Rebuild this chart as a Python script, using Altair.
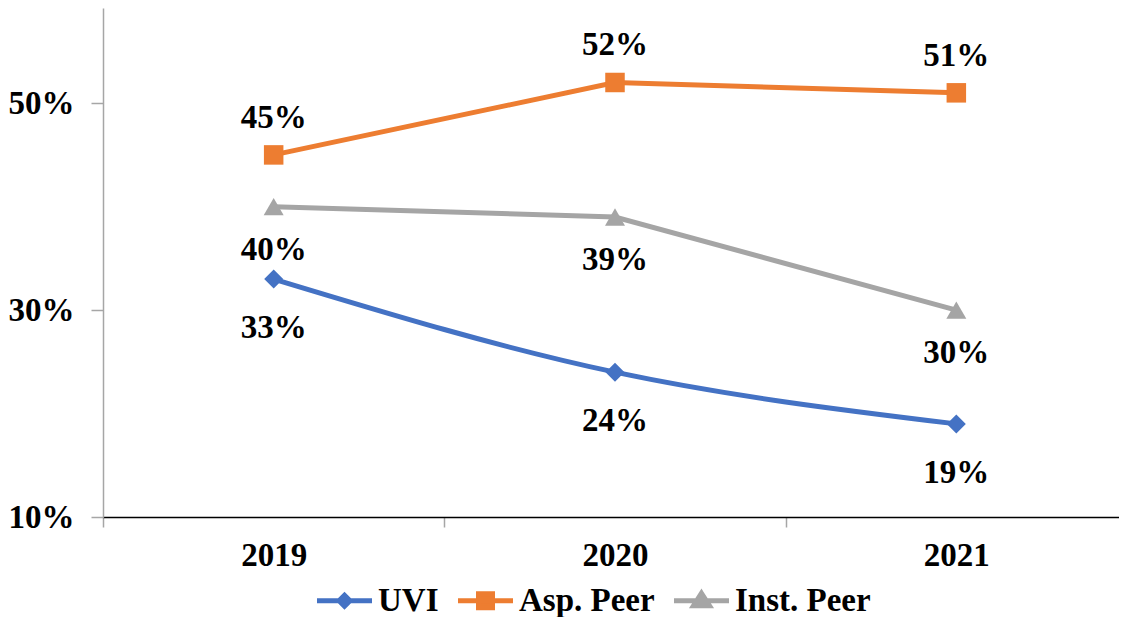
import altair as alt
import pandas as pd

years = ["2019", "2020", "2021"]
series_names = ["UVI", "Asp. Peer", "Inst. Peer"]
uvi = [33, 24, 19]
asp_peer = [45, 52, 51]
inst_peer = [40, 39, 30]
colors = ["#4472C4", "#ED7D31", "#A5A5A5"]
marker_shapes = ["diamond", "square", "triangle-up"]
y_ticks = [10, 30, 50]

FONT = "Liberation Serif"
FS = 33

rows = []
for name, vals in zip(series_names, [uvi, asp_peer, inst_peer]):
    for yr, v in zip(years, vals):
        rows.append({"year": yr, "series": name, "value": v})
df = pd.DataFrame(rows)

# legend symbols: line with marker
legend_paths = [
    "M-2.75,0H2.75M0,-0.55L0.55,0L0,0.55L-0.55,0Z",
    "M-2.75,0H2.75M-0.7,-0.7H0.7V0.7H-0.7Z",
    "M-2.75,0H2.75M0,-0.75L0.8,0.5H-0.8Z",
]

x_enc = alt.X(
    "year:O",
    scale=alt.Scale(type="band", domain=years, range=[0, 1024], paddingInner=0, paddingOuter=0),
    axis=alt.Axis(
        title=None, labelAngle=0, tickBand="extent", tickSize=10, labelPadding=12,
        domainColor="#000000", domainWidth=1.5, tickColor="#A6A6A6", tickWidth=1.5,
        grid=False, labelFont=FONT, labelFontSize=FS, labelFontWeight="bold", labelColor="#000000",
    ),
)
y_enc = alt.Y(
    "value:Q",
    scale=alt.Scale(domain=[10, 59.2], nice=False, zero=False),
    axis=alt.Axis(
        title=None, values=y_ticks, labelExpr="datum.value + '%'", tickSize=12, labelPadding=17,
        domainColor="#A6A6A6", domainWidth=1.5, tickColor="#A6A6A6", tickWidth=1.5, grid=False,
        labelFont=FONT, labelFontSize=FS, labelFontWeight="bold", labelColor="#000000",
    ),
)
color_enc = alt.Color("series:N", scale=alt.Scale(domain=series_names, range=colors), legend=None)

base = alt.Chart(df).encode(x=x_enc, y=y_enc, color=color_enc)

line_smooth = base.transform_filter(alt.datum.series == "UVI").mark_line(
    strokeWidth=5, interpolate="monotone", strokeCap="round"
)
line_straight = base.transform_filter(alt.datum.series != "UVI").mark_line(
    strokeWidth=5, strokeCap="round"
)
points = base.mark_point(filled=True, opacity=1).encode(
    shape=alt.Shape("series:N", scale=alt.Scale(domain=series_names, range=marker_shapes), legend=None),
    size=alt.Size("series:N", scale=alt.Scale(domain=series_names, range=[361, 400, 420]), legend=None),
)

lbl = base.transform_calculate(label="format(datum.value, 'd') + '%'")
text_kw = dict(font=FONT, fontSize=FS, fontWeight="bold", color="#000000", align="center", baseline="middle")
labels_asp = lbl.transform_filter(alt.datum.series == "Asp. Peer").mark_text(dy=-37, **text_kw).encode(
    text="label:N", color=alt.value("#000000"))
labels_inst = lbl.transform_filter(alt.datum.series == "Inst. Peer").mark_text(dy=43, **text_kw).encode(
    text="label:N", color=alt.value("#000000"))
labels_uvi = lbl.transform_filter(alt.datum.series == "UVI").mark_text(dy=49, **text_kw).encode(
    text="label:N", color=alt.value("#000000"))

leg = alt.Legend(
    orient="none", legendX=225, legendY=576, direction="horizontal", title=None,
    symbolSize=400, symbolStrokeWidth=5, labelFont=FONT, labelFontSize=FS, labelFontWeight="bold",
    labelColor="#000000", labelOffset=17, columnPadding=9, labelLimit=400,
)
legend_layer = alt.Chart(df).transform_filter("false").mark_point(
    filled=True, strokeWidth=5, strokeJoin="round", strokeCap="round", opacity=1
).encode(
    fill=alt.Fill("series:N", scale=alt.Scale(domain=series_names, range=colors), legend=leg),
    stroke=alt.Stroke("series:N", scale=alt.Scale(domain=series_names, range=colors), legend=leg),
    shape=alt.Shape("series:N", scale=alt.Scale(domain=series_names, range=legend_paths), legend=leg),
)

chart = alt.layer(
    line_straight, line_smooth, points, labels_asp, labels_inst, labels_uvi, legend_layer
).resolve_scale(
    shape="independent", fill="independent", stroke="independent", size="independent"
).properties(
    width=1016, height=509,
    autosize=alt.AutoSizeParams(type="none"),
    padding={"left": 95, "top": 0, "right": 0, "bottom": 100},
).configure_view(stroke=None)

chart.save("out.html", embed_options={"renderer": "svg", "actions": False})
